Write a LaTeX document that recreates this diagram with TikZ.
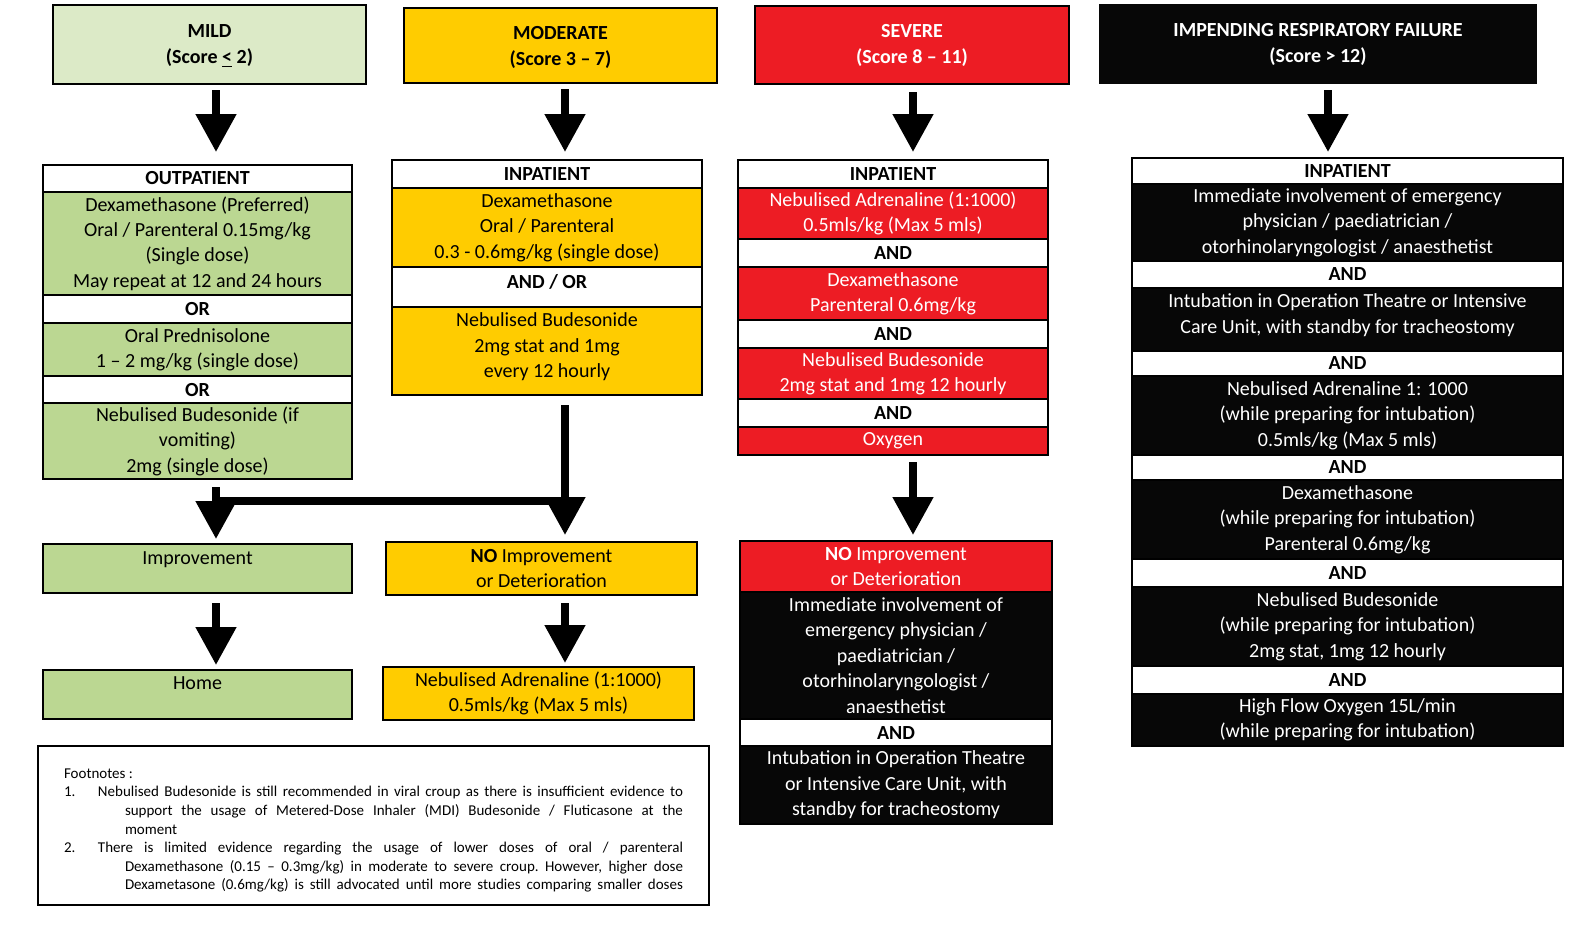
\documentclass[tikz,border=0pt]{standalone}
\usepackage{fontspec}
\setmainfont{Carlito}
\usetikzlibrary{arrows.meta}
\definecolor{mildgreen}{HTML}{DCEAC7}
\definecolor{drugreen}{HTML}{BBD792}
\definecolor{modyellow}{HTML}{FFCC00}
\definecolor{sevred}{HTML}{ED1C24}
\definecolor{impblack}{HTML}{070707}
\tikzset{
  cell/.style={draw=black, line width=1pt, inner sep=0pt, align=center, font=\fontsize{10}{12.7}\selectfont},
  head/.style={cell, font=\fontsize{10}{13}\selectfont\bfseries},
  bigarrow/.style={line width=4pt, -{Triangle[width=19.5pt,length=19pt]}, shorten <=3.5pt, shorten >=2.5pt},
}
\begin{document}
\begin{tikzpicture}[x=0.5pt,y=-0.5pt]
\path [fill=white] (0,0) rectangle (1594,933);
% arrow columns
\coordinate (mildcol) at (216,0);
\coordinate (modcol) at (565,0);
\coordinate (sevcol) at (913,0);
\coordinate (impcol) at (1328,0);
\coordinate (mildjoin) at (216,501);
% mild
\node [head, fill=mildgreen, minimum width=156.5pt, minimum height=39.5pt, text depth=0.5pt] (mild) at (209.5,44.5) {MILD\\(Score \underline{<} 2)};
\node [head, fill=white, minimum width=154.5pt, minimum height=13.5pt] (outhead) at (197.5,178.5) {OUTPATIENT};
\node [cell, fill=drugreen, minimum width=154.5pt, minimum height=51.5pt] (outdex) at (197.5,243.5) {Dexamethasone (Preferred)\\Oral / Parenteral 0.15mg/kg\\(Single dose)\\May repeat at 12 and 24 hours};
\node [head, fill=white, minimum width=154.5pt, minimum height=14pt] (outor1) at (197.5,309) {OR};
\node [cell, fill=drugreen, minimum width=154.5pt, minimum height=26.5pt] (outpred) at (197.5,349.5) {Oral Prednisolone\\1 – 2 mg/kg (single dose)};
\node [head, fill=white, minimum width=154.5pt, minimum height=13.5pt] (outor2) at (197.5,389.5) {OR};
\node [cell, fill=drugreen, minimum width=154.5pt, minimum height=38pt] (outbud) at (197.5,441) {Nebulised Budesonide (if\\vomiting)\\2mg (single dose)};
\node [cell, fill=drugreen, minimum width=154.5pt, minimum height=24.5pt, text depth=10.1pt] (improv) at (197.5,568.5) {Improvement};
\node [cell, fill=drugreen, minimum width=154.5pt, minimum height=24.5pt, text depth=11.1pt] (home) at (197.5,694.5) {Home};
% moderate
\node [head, fill=modyellow, minimum width=156.5pt, minimum height=37.5pt, text depth=0pt] (moderate) at (560.5,45.5) {MODERATE\\(Score 3 – 7)};
\node [head, fill=white, minimum width=155pt, minimum height=14pt] (modin) at (547,174) {INPATIENT};
\node [cell, fill=modyellow, minimum width=155pt, minimum height=39.5pt] (moddex) at (547,227.5) {Dexamethasone\\Oral / Parenteral\\0.3 - 0.6mg/kg (single dose)};
\node [head, fill=white, minimum width=155pt, minimum height=20pt, text depth=5.6pt] (modandor) at (547,287) {AND / OR};
\node [cell, fill=modyellow, minimum width=155pt, minimum height=44pt, text depth=5.6pt] (modbud) at (547,351) {Nebulised Budesonide\\2mg stat and 1mg\\every 12 hourly};
\node [cell, fill=modyellow, minimum width=155.5pt, minimum height=26.5pt] (modnoimp) at (541.5,568.5) {\textbf{NO} Improvement\\or Deterioration};
\node [cell, fill=modyellow, minimum width=155.5pt, minimum height=26.5pt] (modadr) at (538.5,693.5) {Nebulised Adrenaline (1:1000)\\0.5mls/kg (Max 5 mls)};
% severe
\node [head, fill=sevred, text=white, minimum width=157pt, minimum height=39pt] (severe) at (912,45) {SEVERE\\(Score 8 – 11)};
\node [head, fill=white, minimum width=155pt, minimum height=14pt] (sevin) at (893,174) {INPATIENT};
\node [cell, fill=sevred, text=white, minimum width=155pt, minimum height=25.5pt] (sevadr) at (893,213.5) {Nebulised Adrenaline (1:1000)\\0.5mls/kg (Max 5 mls)};
\node [head, fill=white, minimum width=155pt, minimum height=14pt] (sevand1) at (893,253) {AND};
\node [cell, fill=sevred, text=white, minimum width=155pt, minimum height=26.5pt] (sevdex) at (893,293.5) {Dexamethasone\\Parenteral 0.6mg/kg};
\node [head, fill=white, minimum width=155pt, minimum height=14pt] (sevand2) at (893,334) {AND};
\node [cell, fill=sevred, text=white, minimum width=155pt, minimum height=25.5pt] (sevbud) at (893,373.5) {Nebulised Budesonide\\2mg stat and 1mg 12 hourly};
\node [head, fill=white, minimum width=155pt, minimum height=14pt] (sevand3) at (893,413) {AND};
\node [cell, fill=sevred, text=white, minimum width=155pt, minimum height=14pt] (sevoxy) at (893,441) {Oxygen};
\node [cell, fill=sevred, text=white, minimum width=156pt, minimum height=25.5pt] (sevnoimp) at (896,566.5) {\textbf{NO} Improvement\\or Deterioration};
\node [cell, fill=impblack, text=white, minimum width=156pt, minimum height=63.5pt] (sevcall) at (896,655.5) {Immediate involvement of\\emergency physician /\\paediatrician /\\otorhinolaryngologist /\\anaesthetist};
\node [head, fill=white, minimum width=156pt, minimum height=13.5pt] (sevand4) at (896,732.5) {AND};
\node [cell, fill=impblack, text=white, minimum width=156pt, minimum height=39pt] (sevintub) at (896,785) {Intubation in Operation Theatre\\or Intensive Care Unit, with\\standby for tracheostomy};
% impending respiratory failure
\node [head, fill=impblack, draw=impblack, text=white, minimum width=218pt, minimum height=39pt, text depth=1pt] (impending) at (1318,44) {IMPENDING RESPIRATORY FAILURE\\(Score > 12)};
\node [head, fill=white, minimum width=215.5pt, minimum height=13pt] (impin) at (1347.5,171) {INPATIENT};
\node [cell, fill=impblack, text=white, minimum width=215.5pt, minimum height=38.5pt] (impcall) at (1347.5,222.5) {Immediate involvement of emergency\\physician / paediatrician /\\otorhinolaryngologist / anaesthetist};
\node [head, fill=white, minimum width=215.5pt, minimum height=13.5pt] (impand1) at (1347.5,274.5) {AND};
\node [cell, fill=impblack, text=white, minimum width=215.5pt, minimum height=31.5pt, text depth=6.1pt] (impintub) at (1347.5,319.5) {Intubation in Operation Theatre or Intensive\\Care Unit, with standby for tracheostomy};
\node [head, fill=white, minimum width=215.5pt, minimum height=12.5pt] (impand2) at (1347.5,363.5) {AND};
\node [cell, fill=impblack, text=white, minimum width=215.5pt, minimum height=39.5pt] (impadr) at (1347.5,415.5) {Nebulised Adrenaline 1: 1000\\(while preparing for intubation)\\0.5mls/kg (Max 5 mls)};
\node [head, fill=white, minimum width=215.5pt, minimum height=12.5pt] (impand3) at (1347.5,467.5) {AND};
\node [cell, fill=impblack, text=white, minimum width=215.5pt, minimum height=39.5pt] (impdex) at (1347.5,519.5) {Dexamethasone\\(while preparing for intubation)\\Parenteral 0.6mg/kg};
\node [head, fill=white, minimum width=215.5pt, minimum height=14pt] (impand4) at (1347.5,573) {AND};
\node [cell, fill=impblack, text=white, minimum width=215.5pt, minimum height=39.5pt] (impbud) at (1347.5,626.5) {Nebulised Budesonide\\(while preparing for intubation)\\2mg stat, 1mg 12 hourly};
\node [head, fill=white, minimum width=215.5pt, minimum height=14pt] (impand5) at (1347.5,680) {AND};
\node [cell, fill=impblack, text=white, minimum width=215.5pt, minimum height=26pt] (impoxy) at (1347.5,720) {High Flow Oxygen 15L/min\\(while preparing for intubation)};
% footnotes
\node [draw=black, line width=1pt, inner xsep=13pt, inner ysep=0pt, minimum height=79.5pt, text width=309.5pt, align=justify, font=\fontsize{7.5}{9.3}\selectfont] (notes) at (373.5,825.5) {\parindent=0pt\frenchspacing\rule{0pt}{9.8pt}Footnotes :\par
\hangindent=30.5pt\hangafter=1 \makebox[17pt][l]{1.}Nebulised Budesonide is still recommended in viral croup as there is insufficient evidence to\linebreak support the usage of Metered-Dose Inhaler (MDI) Budesonide / Fluticasone at the\linebreak moment\par
\hangindent=30.5pt\hangafter=1 \makebox[17pt][l]{2.}There is limited evidence regarding the usage of lower doses of oral / parenteral\linebreak Dexamethasone (0.15 – 0.3mg/kg) in moderate to severe croup. However, higher dose\linebreak Dexametasone (0.6mg/kg) is still advocated until more studies comparing smaller doses\parfillskip=0pt\par};
% arrows
\draw [bigarrow, shorten <=2.5pt, shorten >=6pt] (mild.south -| mildcol) -- (outhead.north -| mildcol);
\draw [bigarrow, shorten <=2.5pt, shorten >=3.5pt] (moderate.south -| modcol) -- (modin.north -| modcol);
\draw [bigarrow, shorten >=3.5pt] (severe.south -| sevcol) -- (sevin.north -| sevcol);
\draw [bigarrow, shorten <=3pt] (impending.south -| impcol) -- (impin.north -| impcol);
\draw [bigarrow, shorten >=2pt] (outbud.south -| mildcol) -- (improv.north -| mildcol);
\draw [bigarrow, shorten <=4.5pt, shorten >=3pt] (modbud.south -| modcol) -- (modnoimp.north -| modcol);
\draw [line width=4pt] (mildjoin) -- (mildjoin -| modcol);
\draw [bigarrow, shorten <=4.5pt, shorten >=2pt] (improv.south -| mildcol) -- (home.north -| mildcol);
\draw [bigarrow, shorten >=1.5pt] (modnoimp.south -| modcol) -- (modadr.north -| modcol);
\draw [bigarrow, shorten <=3pt] (sevoxy.south -| sevcol) -- (sevnoimp.north -| sevcol);
\end{tikzpicture}
\end{document}
